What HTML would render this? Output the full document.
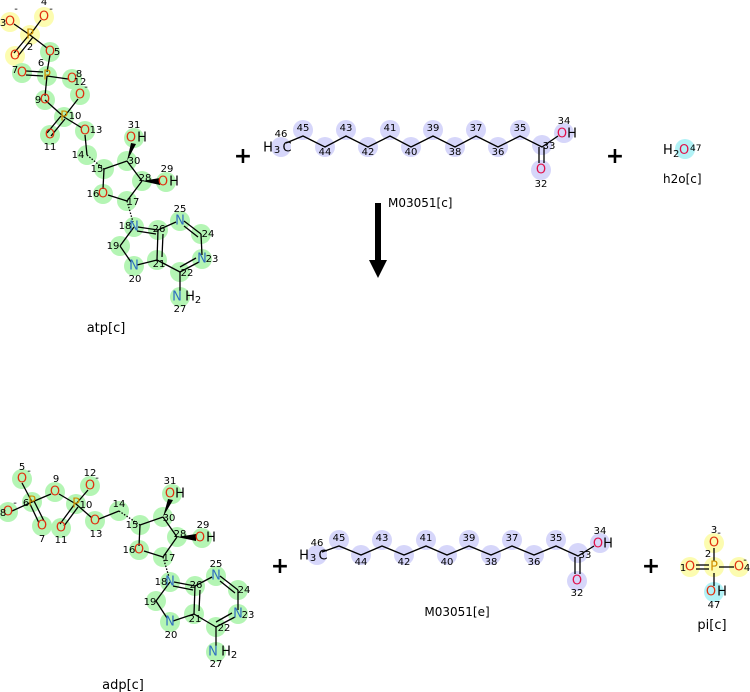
<!DOCTYPE html>
<html><head><meta charset="utf-8"><style>
html,body{margin:0;padding:0;background:#fff;}
svg{display:block;font-family:"DejaVu Sans","Liberation Sans",sans-serif;}
.g{fill:#b4f5b4}.y{fill:#fcfcb0}.l{fill:#d6d6fa}.c{fill:#b2f2f6}
line{stroke:#000;stroke-width:1.3}
.a{font-size:13px;text-anchor:middle;dominant-baseline:central}
.n{font-size:10px;text-anchor:middle;fill:#000}
.O{fill:#e03010}.P{fill:#d09000}.N{fill:#3070c0}.K{fill:#000}.R{fill:#e0104a}
.lab{font-size:13px;fill:#000;text-anchor:middle}
.plus{font-size:22px;font-weight:bold;text-anchor:middle}
</style></head><body>
<svg width="750" height="692" viewBox="0 0 750 692" xmlns="http://www.w3.org/2000/svg">
<!-- ATP highlights -->
<g>
<circle class="y" cx="10" cy="22" r="10"/><circle class="y" cx="44" cy="17" r="10"/><circle class="y" cx="30" cy="35" r="10"/><circle class="y" cx="15" cy="56" r="10"/>
<circle class="g" cx="50" cy="52" r="10"/><circle class="g" cx="47" cy="76" r="10"/><circle class="g" cx="22" cy="73" r="10"/><circle class="g" cx="72" cy="79" r="10"/><circle class="g" cx="80" cy="95" r="10"/><circle class="g" cx="45" cy="100" r="10"/><circle class="g" cx="64" cy="117" r="10"/><circle class="g" cx="50" cy="135" r="10"/><circle class="g" cx="85" cy="131" r="10"/>
<circle class="g" cx="87" cy="155" r="10"/><circle class="g" cx="104" cy="169" r="10"/><circle class="g" cx="103" cy="194" r="10"/><circle class="g" cx="127" cy="201" r="10"/><circle class="g" cx="142" cy="181" r="10"/><circle class="g" cx="127" cy="161" r="10"/><circle class="g" cx="134" cy="138" r="10"/><circle class="g" cx="166" cy="182" r="10"/>
<circle class="g" cx="134" cy="227" r="10"/><circle class="g" cx="120" cy="246" r="10"/><circle class="g" cx="134" cy="266" r="10"/><circle class="g" cx="157" cy="260" r="10"/><circle class="g" cx="158" cy="230" r="10"/><circle class="g" cx="180" cy="221" r="10"/><circle class="g" cx="201" cy="234" r="10"/><circle class="g" cx="202" cy="259" r="10"/><circle class="g" cx="180" cy="272" r="10"/><circle class="g" cx="180" cy="297" r="10"/>
</g>
<g>
<line x1="30" y1="35" x2="14" y2="24"/><line x1="30" y1="35" x2="41" y2="20"/><line x1="29" y1="35" x2="14" y2="53"/><line x1="33" y1="37" x2="18" y2="56"/><line x1="30" y1="35" x2="47" y2="48"/>
<line x1="50" y1="55" x2="47" y2="72"/><line x1="26" y1="71" x2="43" y2="72"/><line x1="26" y1="75" x2="43" y2="76"/><line x1="47" y1="76" x2="68" y2="79"/><line x1="47" y1="76" x2="45" y2="96"/>
<line x1="45" y1="100" x2="64" y2="117"/><line x1="64" y1="117" x2="78" y2="99"/><line x1="61" y1="116" x2="47" y2="133"/><line x1="65" y1="119" x2="51" y2="136"/><line x1="64" y1="117" x2="82" y2="128"/>
<line x1="85" y1="135" x2="87" y2="155"/>
<line x1="87" y1="155" x2="104" y2="169" stroke-dasharray="1.5 1.5" stroke-width="4"/>
<line x1="104" y1="169" x2="103" y2="189"/><line x1="104" y1="169" x2="127" y2="161"/><line x1="127" y1="161" x2="142" y2="181"/><line x1="142" y1="181" x2="127" y2="201"/><line x1="127" y1="201" x2="108" y2="195"/>
<polygon points="127,161 131,143 136,144"/><polygon points="142,181 160,178 160,185"/>
<line x1="127" y1="201" x2="133" y2="222" stroke-dasharray="1.5 1.5" stroke-width="4"/>
<line x1="134" y1="227" x2="120" y2="246"/><line x1="120" y1="246" x2="131" y2="262"/><line x1="137" y1="265" x2="157" y2="260"/>
<line x1="157" y1="260" x2="158" y2="230"/><line x1="162" y1="257" x2="163" y2="234"/><line x1="138" y1="227" x2="158" y2="230"/><line x1="137" y1="231" x2="156" y2="234"/>
<line x1="158" y1="230" x2="176" y2="222"/><line x1="184" y1="221" x2="201" y2="234"/><line x1="184" y1="226" x2="198" y2="237"/><line x1="201" y1="234" x2="202" y2="255"/><line x1="199" y1="262" x2="180" y2="272"/><line x1="196" y1="258" x2="180" y2="267"/><line x1="180" y1="272" x2="157" y2="260"/><line x1="180" y1="272" x2="180" y2="291"/>
</g>
<g>
<text class="a O" x="10" y="22">O</text><text class="a O" x="44" y="17">O</text><text class="a P" x="30" y="35">P</text><text class="a O" x="15" y="56">O</text><text class="a O" x="50" y="52">O</text><text class="a P" x="47" y="76">P</text><text class="a O" x="22" y="73">O</text><text class="a O" x="72" y="79">O</text><text class="a O" x="80" y="95">O</text><text class="a O" x="45" y="100">O</text><text class="a P" x="64" y="117">P</text><text class="a O" x="50" y="135">O</text><text class="a O" x="85" y="131">O</text>
<text class="a O" x="103" y="194">O</text><text class="a O" x="131" y="138">O</text><text class="a K" x="142" y="138">H</text><text class="a O" x="163" y="182">O</text><text class="a K" x="174" y="182">H</text>
<text class="a N" x="134" y="227">N</text><text class="a N" x="134" y="266">N</text><text class="a N" x="180" y="221">N</text><text class="a N" x="202" y="259">N</text><text class="a N" x="177" y="297">N</text><text class="a K" x="190" y="297">H</text><text class="n" x="198" y="303">2</text>
<text class="n" x="3" y="26">3</text><text class="n" x="16" y="12">-</text><text class="n" x="44" y="5">4</text><text class="n" x="51" y="12">-</text><text class="n" x="30" y="50">2</text><text class="n" x="57" y="55">5</text><text class="n" x="41" y="66">6</text><text class="n" x="15" y="73">7</text><text class="n" x="79" y="77">8</text><text class="n" x="80" y="85">12</text><text class="n" x="86" y="90">-</text><text class="n" x="38" y="103">9</text><text class="n" x="75" y="119">10</text><text class="n" x="50" y="150">11</text><text class="n" x="96" y="133">13</text>
<text class="n" x="78" y="158">14</text><text class="n" x="97" y="172">15</text><text class="n" x="93" y="197">16</text><text class="n" x="133" y="205">17</text><text class="n" x="145" y="181">28</text><text class="n" x="134" y="164">30</text><text class="n" x="134" y="128">31</text><text class="n" x="167" y="172">29</text>
<text class="n" x="125" y="229">18</text><text class="n" x="113" y="249">19</text><text class="n" x="135" y="282">20</text><text class="n" x="159" y="267">21</text><text class="n" x="159" y="232">26</text><text class="n" x="180" y="212">25</text><text class="n" x="208" y="237">24</text><text class="n" x="212" y="262">23</text><text class="n" x="187" y="276">22</text><text class="n" x="180" y="312">27</text>
<text class="lab" x="106" y="332">atp[c]</text>
</g>

<!-- ADP -->
<g>
<circle class="g" cx="22" cy="479" r="10"/><circle class="g" cx="32" cy="502" r="10"/><circle class="g" cx="8" cy="512" r="10"/><circle class="g" cx="42" cy="526" r="10"/><circle class="g" cx="55" cy="492" r="10"/><circle class="g" cx="76" cy="504" r="10"/><circle class="g" cx="90" cy="486" r="10"/><circle class="g" cx="61" cy="528" r="10"/><circle class="g" cx="95" cy="521" r="10"/>
<circle class="g" cx="119" cy="511" r="10"/><circle class="g" cx="140" cy="525" r="10"/><circle class="g" cx="139" cy="550" r="10"/><circle class="g" cx="163" cy="557" r="10"/><circle class="g" cx="177" cy="537" r="10"/><circle class="g" cx="163" cy="517" r="10"/><circle class="g" cx="172" cy="494" r="10"/><circle class="g" cx="202" cy="538" r="10"/>
<circle class="g" cx="170" cy="582" r="10"/><circle class="g" cx="156" cy="601" r="10"/><circle class="g" cx="170" cy="622" r="10"/><circle class="g" cx="194" cy="614" r="10"/><circle class="g" cx="195" cy="586" r="10"/><circle class="g" cx="216" cy="576" r="10"/><circle class="g" cx="238" cy="590" r="10"/><circle class="g" cx="238" cy="614" r="10"/><circle class="g" cx="216" cy="627" r="10"/><circle class="g" cx="216" cy="652" r="10"/>
</g>
<g>
<line x1="22" y1="483" x2="32" y2="502"/><line x1="32" y1="502" x2="12" y2="511"/><line x1="30" y1="504" x2="39" y2="523"/><line x1="34" y1="501" x2="44" y2="521"/><line x1="32" y1="502" x2="51" y2="494"/>
<line x1="59" y1="494" x2="76" y2="504"/><line x1="76" y1="504" x2="88" y2="490"/><line x1="74" y1="505" x2="60" y2="524"/><line x1="78" y1="507" x2="64" y2="526"/><line x1="76" y1="504" x2="92" y2="518"/>
<line x1="99" y1="519" x2="119" y2="511"/>
<line x1="119" y1="511" x2="140" y2="525" stroke-dasharray="1.5 1.5" stroke-width="4"/>
<line x1="140" y1="525" x2="139" y2="546"/><line x1="140" y1="525" x2="163" y2="517"/><line x1="163" y1="517" x2="177" y2="537"/><line x1="177" y1="537" x2="163" y2="557"/><line x1="163" y1="557" x2="144" y2="551"/>
<polygon points="163,517 168,499 173,500"/><polygon points="177,537 196,534 196,541"/>
<line x1="163" y1="557" x2="169" y2="577" stroke-dasharray="1.5 1.5" stroke-width="4"/>
<line x1="170" y1="582" x2="156" y2="601"/><line x1="156" y1="601" x2="167" y2="618"/><line x1="173" y1="621" x2="194" y2="614"/>
<line x1="194" y1="614" x2="195" y2="586"/><line x1="199" y1="611" x2="200" y2="590"/><line x1="174" y1="582" x2="195" y2="586"/><line x1="173" y1="586" x2="193" y2="590"/>
<line x1="195" y1="586" x2="212" y2="577"/><line x1="220" y1="576" x2="238" y2="590"/><line x1="220" y1="581" x2="235" y2="593"/><line x1="238" y1="590" x2="238" y2="610"/><line x1="235" y1="617" x2="216" y2="627"/><line x1="232" y1="613" x2="216" y2="622"/><line x1="216" y1="627" x2="194" y2="614"/><line x1="216" y1="627" x2="216" y2="646"/>
</g>
<g>
<text class="a O" x="22" y="479">O</text><text class="a P" x="32" y="502">P</text><text class="a O" x="8" y="512">O</text><text class="a O" x="42" y="526">O</text><text class="a O" x="55" y="492">O</text><text class="a P" x="76" y="504">P</text><text class="a O" x="90" y="486">O</text><text class="a O" x="61" y="528">O</text><text class="a O" x="95" y="521">O</text>
<text class="a O" x="139" y="550">O</text><text class="a O" x="170" y="494">O</text><text class="a K" x="180" y="494">H</text><text class="a O" x="200" y="538">O</text><text class="a K" x="211" y="538">H</text>
<text class="a N" x="170" y="582">N</text><text class="a N" x="170" y="622">N</text><text class="a N" x="216" y="576">N</text><text class="a N" x="238" y="614">N</text><text class="a N" x="213" y="652">N</text><text class="a K" x="226" y="652">H</text><text class="n" x="234" y="658">2</text>
<text class="n" x="22" y="470">5</text><text class="n" x="29" y="474">-</text><text class="n" x="3" y="516">8</text><text class="n" x="15" y="506">-</text><text class="n" x="26" y="506">6</text><text class="n" x="42" y="542">7</text><text class="n" x="56" y="482">9</text><text class="n" x="90" y="476">12</text><text class="n" x="97" y="481">-</text><text class="n" x="86" y="508">10</text><text class="n" x="61" y="543">11</text><text class="n" x="96" y="537">13</text>
<text class="n" x="119" y="507">14</text><text class="n" x="132" y="528">15</text><text class="n" x="129" y="553">16</text><text class="n" x="169" y="561">17</text><text class="n" x="180" y="537">28</text><text class="n" x="169" y="521">30</text><text class="n" x="170" y="484">31</text><text class="n" x="203" y="528">29</text>
<text class="n" x="161" y="585">18</text><text class="n" x="150" y="605">19</text><text class="n" x="171" y="638">20</text><text class="n" x="195" y="622">21</text><text class="n" x="196" y="588">26</text><text class="n" x="216" y="567">25</text><text class="n" x="244" y="593">24</text><text class="n" x="248" y="618">23</text><text class="n" x="224" y="631">22</text><text class="n" x="216" y="667">27</text>
<text class="lab" x="123" y="689">adp[c]</text>
</g>

<!-- plus signs -->
<text class="plus" x="243" y="163">+</text>
<text class="plus" x="615" y="163">+</text>
<text class="plus" x="280" y="573">+</text>
<text class="plus" x="651" y="573">+</text>

<!-- Fatty acid top -->
<g>
<circle class="l" cx="281" cy="147" r="10"/><circle class="l" cx="303" cy="130" r="10"/><circle class="l" cx="325" cy="147" r="10"/><circle class="l" cx="346" cy="130" r="10"/><circle class="l" cx="368" cy="147" r="10"/><circle class="l" cx="390" cy="130" r="10"/><circle class="l" cx="411" cy="147" r="10"/><circle class="l" cx="433" cy="130" r="10"/><circle class="l" cx="455" cy="147" r="10"/><circle class="l" cx="476" cy="130" r="10"/><circle class="l" cx="498" cy="147" r="10"/><circle class="l" cx="520" cy="130" r="10"/><circle class="l" cx="542" cy="145" r="10"/><circle class="l" cx="564" cy="133" r="10"/><circle class="l" cx="541" cy="170" r="10"/>
<polyline fill="none" stroke="#000" stroke-width="1.3" points="286,143 303,136 325,147 346,136 368,147 390,136 411,147 433,136 455,147 476,136 498,147 520,136 542,147 558,136"/>
<line x1="539" y1="147" x2="539" y2="163"/><line x1="544" y1="147" x2="544" y2="163"/>
<text class="a K" x="268" y="148">H</text><text class="n" x="277" y="153">3</text><text class="a K" x="287" y="148">C</text>
<text class="a R" x="562" y="134">O</text><text class="a K" x="572" y="134">H</text><text class="a R" x="541" y="170">O</text>
<text class="n" x="281" y="137">46</text><text class="n" x="303" y="131">45</text><text class="n" x="325" y="155">44</text><text class="n" x="346" y="131">43</text><text class="n" x="368" y="155">42</text><text class="n" x="390" y="131">41</text><text class="n" x="411" y="155">40</text><text class="n" x="433" y="131">39</text><text class="n" x="455" y="155">38</text><text class="n" x="476" y="131">37</text><text class="n" x="498" y="155">36</text><text class="n" x="520" y="131">35</text><text class="n" x="549" y="149">33</text><text class="n" x="564" y="124">34</text><text class="n" x="541" y="187">32</text>
</g>
<text x="388" y="207" style="font-size:12px">M03051[c]</text>
<rect x="375" y="203" width="6" height="60" fill="#000"/>
<polygon points="369,260 387,260 378,278" fill="#000"/>

<!-- water -->
<circle class="c" cx="685" cy="149" r="10"/>
<text x="663" y="154" style="font-size:13px">H</text><text x="673" y="157" style="font-size:10px">2</text><text x="679" y="154" style="font-size:13px" class="R">O</text><text x="690" y="151" style="font-size:9px">47</text>
<text x="663" y="183" style="font-size:12px">h2o[c]</text>

<!-- Fatty acid bottom -->
<g>
<circle class="l" cx="317" cy="555" r="10"/><circle class="l" cx="339" cy="540" r="10"/><circle class="l" cx="361" cy="555" r="10"/><circle class="l" cx="382" cy="540" r="10"/><circle class="l" cx="404" cy="555" r="10"/><circle class="l" cx="426" cy="540" r="10"/><circle class="l" cx="447" cy="555" r="10"/><circle class="l" cx="469" cy="540" r="10"/><circle class="l" cx="491" cy="555" r="10"/><circle class="l" cx="512" cy="540" r="10"/><circle class="l" cx="534" cy="555" r="10"/><circle class="l" cx="556" cy="540" r="10"/><circle class="l" cx="578" cy="553" r="10"/><circle class="l" cx="600" cy="543" r="10"/><circle class="l" cx="577" cy="581" r="10"/>
<polyline fill="none" stroke="#000" stroke-width="1.3" points="322,552 339,546 361,555 382,546 404,555 426,546 447,555 469,546 491,555 512,546 534,555 556,546 578,556 594,546"/>
<line x1="575" y1="557" x2="575" y2="574"/><line x1="580" y1="557" x2="580" y2="574"/>
<text class="a K" x="304" y="556">H</text><text class="n" x="313" y="561">3</text><text class="a K" x="323" y="556">C</text>
<text class="a R" x="598" y="544">O</text><text class="a K" x="608" y="544">H</text><text class="a R" x="577" y="581">O</text>
<text class="n" x="317" y="546">46</text><text class="n" x="339" y="541">45</text><text class="n" x="361" y="565">44</text><text class="n" x="382" y="541">43</text><text class="n" x="404" y="565">42</text><text class="n" x="426" y="541">41</text><text class="n" x="447" y="565">40</text><text class="n" x="469" y="541">39</text><text class="n" x="491" y="565">38</text><text class="n" x="512" y="541">37</text><text class="n" x="534" y="565">36</text><text class="n" x="556" y="541">35</text><text class="n" x="585" y="558">33</text><text class="n" x="600" y="534">34</text><text class="n" x="577" y="596">32</text>
</g>
<text class="lab" x="457" y="616" style="font-size:12px">M03051[e]</text>

<!-- pi -->
<g>
<circle class="y" cx="714" cy="543" r="10"/><circle class="y" cx="690" cy="567" r="10"/><circle class="y" cx="714" cy="567" r="10"/><circle class="y" cx="739" cy="567" r="10"/><circle class="c" cx="714" cy="592" r="10"/>
<line x1="714" y1="548" x2="714" y2="561"/><line x1="696" y1="565" x2="709" y2="565"/><line x1="696" y1="569" x2="709" y2="569"/><line x1="719" y1="567" x2="734" y2="567"/><line x1="714" y1="573" x2="714" y2="586"/>
<text class="a O" x="714" y="543">O</text><text class="a O" x="690" y="567">O</text><text class="a P" x="714" y="567">P</text><text class="a O" x="739" y="567">O</text><text class="a O" x="711" y="592">O</text><text class="a K" x="722" y="592">H</text>
<text class="n" x="714" y="533">3</text><text class="n" x="719" y="536">-</text><text class="n" x="708" y="557">2</text><text class="n" x="683" y="571">1</text><text class="n" x="747" y="571">4</text><text class="n" x="745" y="563">-</text><text class="n" x="714" y="608">47</text>
</g>
<text class="lab" x="712" y="629">pi[c]</text>
</svg>
</body></html>
